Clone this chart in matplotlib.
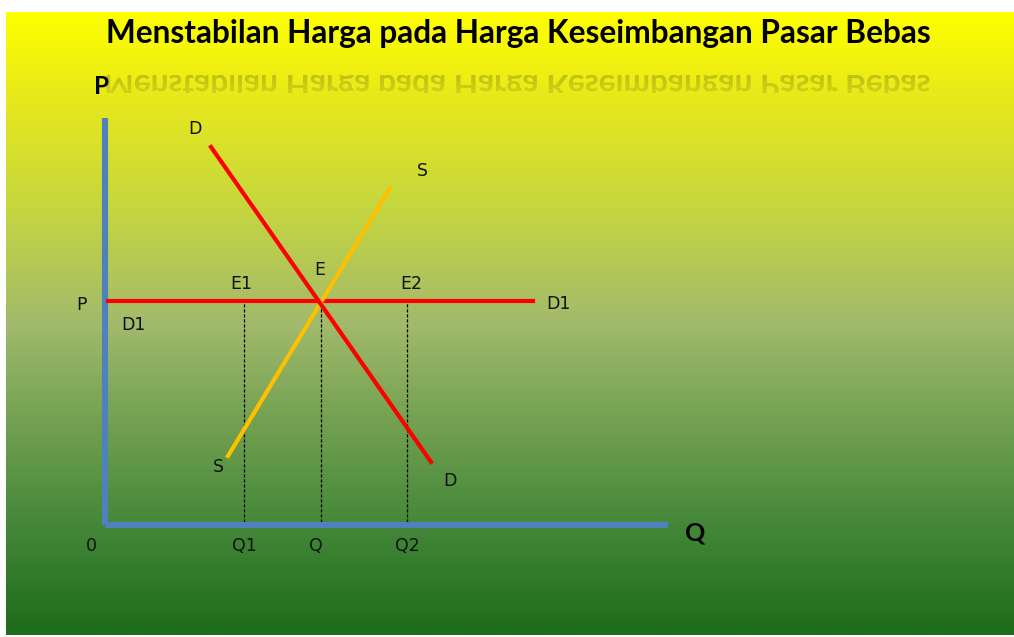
import numpy as np
import matplotlib
matplotlib.use("Agg")
import matplotlib.pyplot as plt
from matplotlib.colors import LinearSegmentedColormap
from matplotlib.textpath import TextPath
from matplotlib.font_manager import FontProperties
from matplotlib.patches import PathPatch, Rectangle
from matplotlib.transforms import Affine2D

# chart content (units: quantity on x, price on y)
title = "Menstabilan Harga pada Harga Keseimbangan Pasar Bebas"
axis_top = 40.7
axis_right = 56.3
price_p = 22.4
d1_x = [0.3, 42.8]
demand_x = [10.6, 32.6]
demand_y = [37.8, 6.3]
supply_x = [12.3, 28.5]
supply_y = [6.9, 33.7]
q_marks = [13.9, 21.6, 30.2]
q_labels = ["Q1", "Q", "Q2"]

# label text and where it sits
point_labels = ["D", "S", "E", "E1", "E2", "D1", "P", "D1", "S", "D", "0"]
point_x = [9.0, 31.7, 21.5, 13.6, 30.6, 45.3, -2.3, 2.8, 11.3, 34.5, -1.4]
point_y = [39.6, 35.4, 25.5, 24.1, 24.1, 22.1, 22.0, 20.0, 5.8, 4.4, -2.1]

W, H = 1014, 637
fig = plt.figure(figsize=(W / 100, H / 100), dpi=100)
fig.patch.set_facecolor("white")
ax = fig.add_axes([0, 0, 1, 1])
ax.set_xlim(-10.5, 90.9)
ax.set_ylim(-11.2, 52.5)
ax.axis("off")

# yellow -> green background
stops = [(0.0, "#ffff00"), (0.14, "#e6e81c"), (0.3, "#c8d83c"),
         (0.5, "#a2ba6c"), (0.65, "#75a252"), (0.82, "#46883a"), (1.0, "#1c6c1a")]
cmap = LinearSegmentedColormap.from_list("bg", stops)
grad = np.linspace(0, 1, 400).reshape(-1, 1)
ax.imshow(grad, cmap=cmap, aspect="auto", extent=[-9.9, 90.9, -11.0, 51.3],
          zorder=0, interpolation="bicubic")

# axes of the diagram
blue = "#4f81bd"
ax.plot([0, 0], [0, axis_top], color=blue, lw=4.4, solid_capstyle="butt", zorder=3)
ax.plot([0, axis_right], [0, 0], color=blue, lw=4.4, solid_capstyle="butt", zorder=3)

# dashed drop lines
for q in q_marks:
    ax.plot([q, q], [0.3, price_p], color="black", lw=0.9, ls=(0, (2.5, 1.5)), zorder=2)

ax.plot(d1_x, [price_p, price_p], color="#ff0000", lw=3.0, zorder=4)
ax.plot(supply_x, supply_y, color="#ffc000", lw=3.0, zorder=4)
ax.plot(demand_x, demand_y, color="#ff0000", lw=3.0, zorder=5)

lab = dict(family="DejaVu Sans", fontsize=12.5, color="#111111", ha="center", va="center")
for t, x, y in zip(point_labels, point_x, point_y):
    ax.text(x, y, t, zorder=6, **lab)
for t, x in zip(q_labels, q_marks):
    ax.text(x - 0.5 if t == "Q" else x, -2.1, t, zorder=6, **lab)

ax.text(-0.3, 43.9, "P", family="Lato", fontsize=17.5, fontweight="bold", ha="center", va="center", zorder=6)
ax.text(59.0, -0.8, "Q", family="Lato", fontsize=18, fontweight="bold", ha="center", va="center", zorder=6)

# title, sized to span the same width as the original
fp = FontProperties(family="Lato", weight="bold")
tp = TextPath((0, 0), title, size=100, prop=fp)
ext = tp.get_extents()
size_px = 100 * 823 / ext.width
cx = 518
ax.text((cx - 105) / 10, (525 - 43) / 10, title, family="Lato", fontweight="bold",
        fontsize=size_px * 0.72, ha="center", va="baseline", zorder=6)

# faded upside-down reflection of the title
scale = size_px / 100
x0 = cx - ext.width * scale / 2 - ext.x0 * scale
base = H - 75
refl = Affine2D().scale(scale, -scale).translate(x0, base).transform_path(tp)
for k in range(6):
    top = base - k * 3
    patch = PathPatch(refl, facecolor="#3a3a10", edgecolor="none", alpha=0.24 - k * 0.02,
                      transform=Affine2D(), zorder=5)
    clip = Rectangle((0, top - 3), W, 3, transform=Affine2D())
    fig.add_artist(patch)
    patch.set_clip_path(clip)

fig.savefig("out.png", dpi=100)
